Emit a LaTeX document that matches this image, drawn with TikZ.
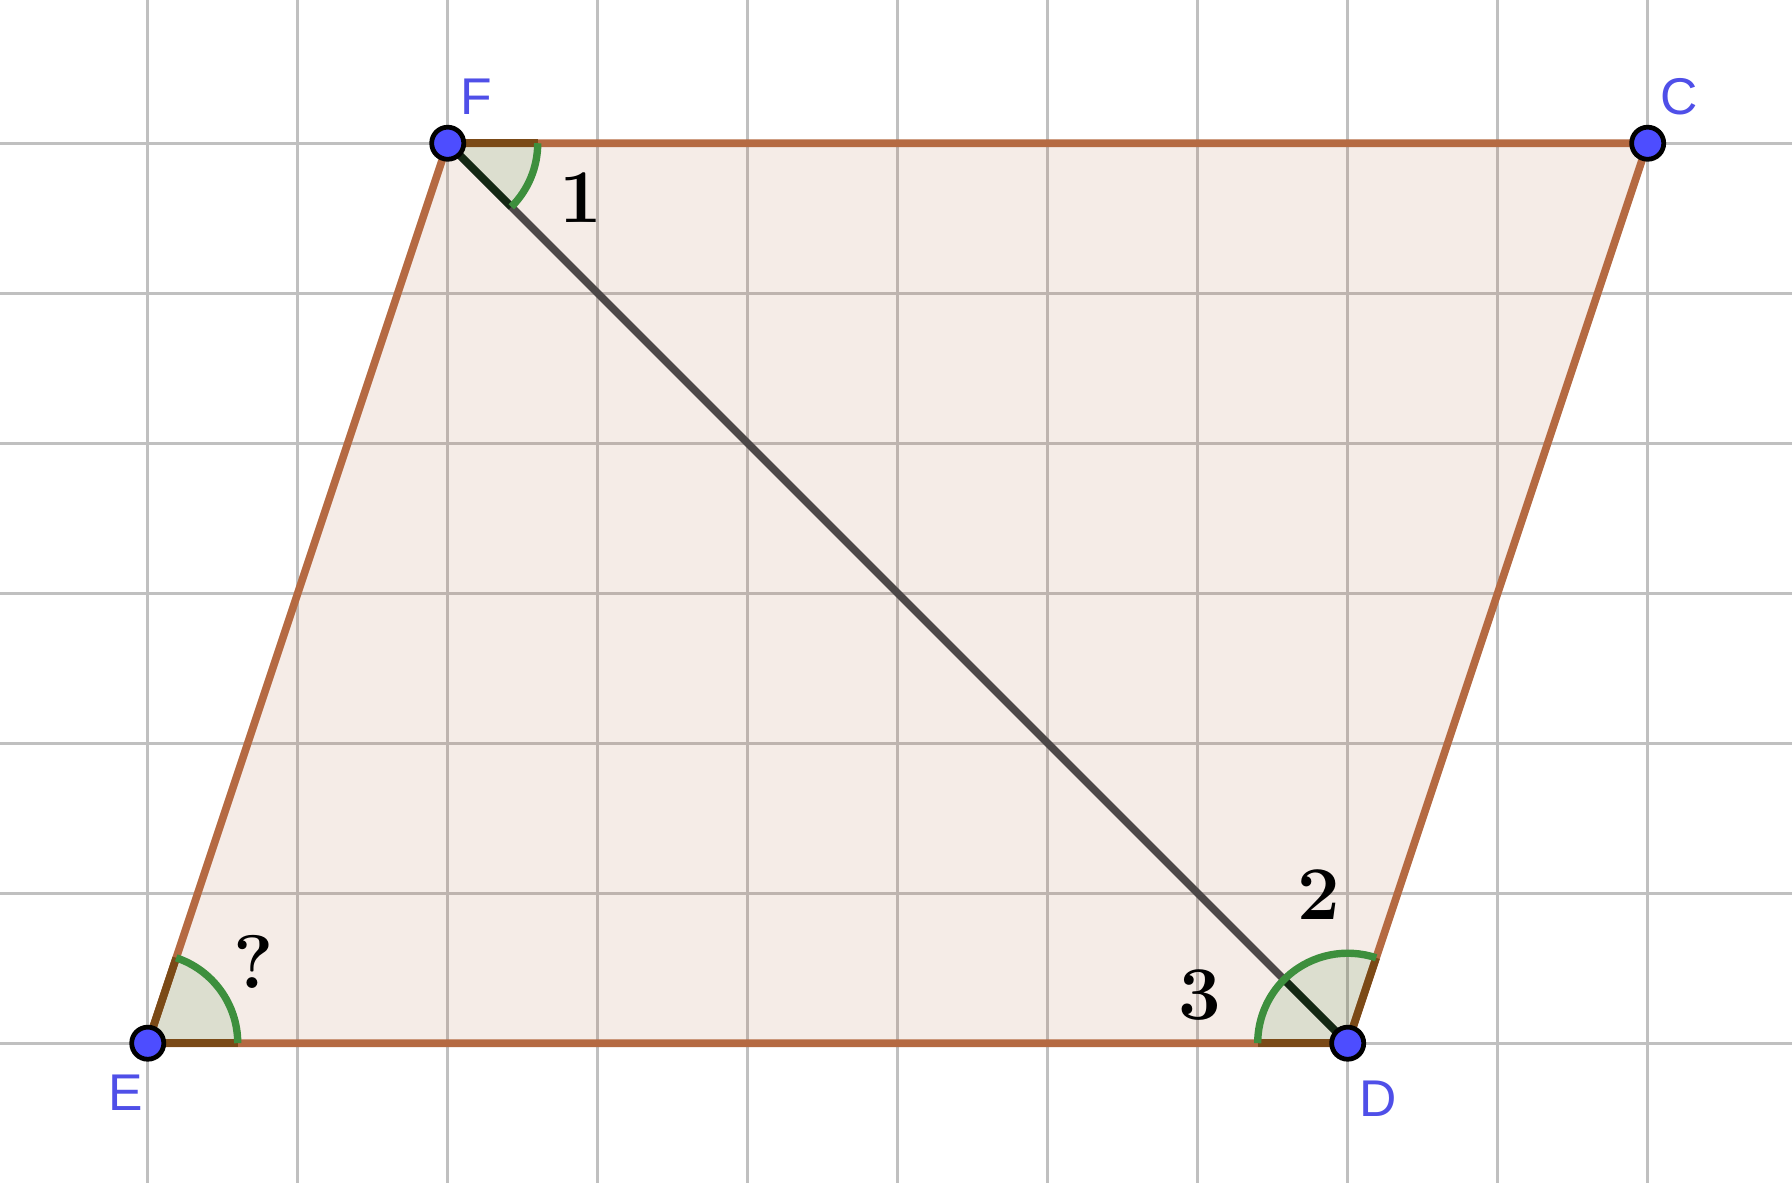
\documentclass[tikz,border=0pt]{standalone}
\usepackage{fontspec}
\setsansfont{Liberation Sans}
\begin{document}
\begin{tikzpicture}[x=1cm,y=1cm,
  gridline/.style={draw=gridc,line width=0.62pt},
  edge/.style={draw=edgec,line width=1.45pt},
  diagline/.style={draw=diagc,line width=1.45pt},
  sector/.style={fill=angc,fill opacity=0.1},
  sideb/.style={draw=sidebc,line width=1.45pt},
  sided/.style={draw=sidedc,line width=1.45pt},
  arcline/.style={draw=arcc,line width=1.4pt},
  pt/.style={circle,fill=ptc,draw=black,line width=0.9pt,minimum size=0.214cm,inner sep=0pt},
  ptlabel/.style={text=labc,font=\sffamily\fontsize{9.8}{12}\selectfont,inner sep=0pt},
  anglabel/.style={font=\fontsize{14.4}{17}\selectfont\bfseries,inner sep=0pt}
]
\definecolor{gridc}{RGB}{192,192,192}
\definecolor{edgec}{RGB}{181,106,66}
\definecolor{diagc}{RGB}{77,72,72}
\definecolor{angc}{RGB}{0,100,0}
\definecolor{sidebc}{RGB}{123,74,23}
\definecolor{sidedc}{RGB}{20,40,20}
\definecolor{arcc}{RGB}{61,143,61}
\definecolor{ptc}{RGB}{77,77,255}
\definecolor{labc}{RGB}{79,79,232}
\useasboundingbox (-0.985,-0.931) rectangle (10.962,6.955);
% grid
\foreach \i in {0,...,10} \draw[gridline] (\i,-0.931) -- (\i,6.955);
\foreach \j in {0,...,6} \draw[gridline] (-0.985,\j) -- (10.962,\j);
% vertices
\coordinate (E) at (0,0);
\coordinate (D) at (8,0);
\coordinate (C) at (10,6);
\coordinate (F) at (2,6);
% polygon fill
\fill[edgec,fill opacity=0.13] (E) -- (D) -- (C) -- (F) -- cycle;
% edges and diagonal
\draw[edge] (E) -- (D) -- (C) -- (F) -- cycle;
\draw[diagline] (F) -- (D);
% angle sectors
\fill[sector] (F) -- ++(0:0.6) arc[start angle=0,end angle=-45,radius=0.6] -- cycle;
\fill[sector] (E) -- ++(0:0.6) arc[start angle=0,end angle=71.565,radius=0.6] -- cycle;
\fill[sector] (D) -- ++(71.565:0.6) arc[start angle=71.565,end angle=135,radius=0.6] -- cycle;
\fill[sector] (D) -- ++(135:0.6) arc[start angle=135,end angle=180,radius=0.6] -- cycle;
% angle sides
\draw[sideb] (F) -- ++(0:0.6);
\draw[sided] (F) -- ++(-45:0.6);
\draw[sideb] (E) -- ++(0:0.6);
\draw[sideb] (E) -- ++(71.565:0.6);
\draw[sideb] (D) -- ++(180:0.6);
\draw[sideb] (D) -- ++(71.565:0.6);
\draw[sided] (D) -- ++(135:0.6);
% arcs
\draw[arcline] (F) ++(0:0.6) arc[start angle=0,end angle=-45,radius=0.6];
\draw[arcline] (E) ++(0:0.6) arc[start angle=0,end angle=71.565,radius=0.6];
\draw[arcline] (D) ++(71.565:0.6) arc[start angle=71.565,end angle=180,radius=0.6];
% points
\node[pt] (Ep) at (E) {};
\node[pt] (Dp) at (D) {};
\node[pt] (Cp) at (C) {};
\node[pt] (Fp) at (F) {};
% point labels
\node[ptlabel] (Elab) at (-0.145,-0.329) {E};
\node[ptlabel] (Dlab) at (8.204,-0.373) {D};
\node[ptlabel] (Clab) at (10.208,6.309) {C};
\node[ptlabel] (Flab) at (2.187,6.311) {F};
% angle labels
\node[anglabel] (a1) at (2.889,5.637) {1};
\node[anglabel] (a2) at (7.811,0.989) {2};
\node[anglabel] (a3) at (7.015,0.318) {3};
\node[anglabel] (aq) at (0.704,0.544) {?};
\end{tikzpicture}
\end{document}
